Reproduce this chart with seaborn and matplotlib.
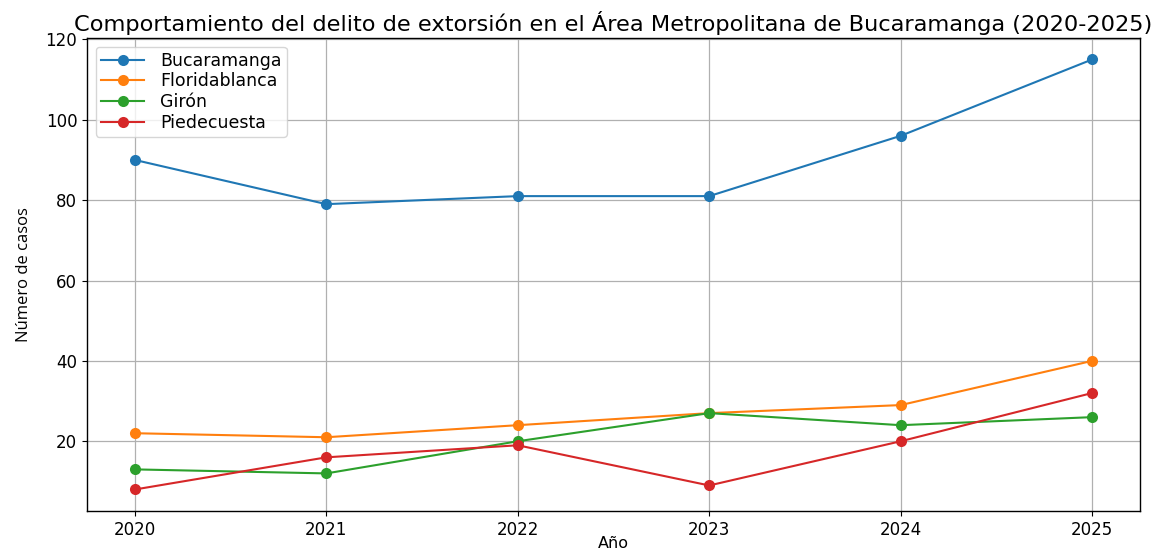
import matplotlib
matplotlib.use("Agg")
import matplotlib.pyplot as plt
import seaborn as sns
import pandas as pd

years = [2020, 2021, 2022, 2023, 2024, 2025]
municipios = ["Bucaramanga", "Floridablanca", "Girón", "Piedecuesta"]
bucaramanga = [90, 79, 81, 81, 96, 115]
floridablanca = [22, 21, 24, 27, 29, 40]
giron = [13, 12, 20, 27, 24, 26]
piedecuesta = [8, 16, 19, 9, 20, 32]

series = [bucaramanga, floridablanca, giron, piedecuesta]
df = pd.DataFrame(
    [(y, m, v) for m, vals in zip(municipios, series) for y, v in zip(years, vals)],
    columns=["Año", "Municipio", "Casos"],
)

fig = plt.figure(figsize=(11.63, 5.52), dpi=100)
ax = fig.add_axes([0.0748, 0.0743, 0.9054, 0.8569])

palette = ["#1f77b4", "#ff7f0e", "#2ca02c", "#d62728"]
sns.lineplot(data=df, x="Año", y="Casos", hue="Municipio", hue_order=municipios,
             palette=palette, marker="o", markersize=8, markeredgewidth=0,
             linewidth=1.5, ax=ax)

ax.set_xticks(years)
ax.set_xticklabels([str(y) for y in years])
ax.tick_params(labelsize=12)
ax.grid(True, color="#b0b0b0", linewidth=0.9)
ax.set_axisbelow(True)
for s in ax.spines.values():
    s.set_linewidth(1.0)
ax.set_title("Comportamiento del delito de extorsión en el Área Metropolitana de Bucaramanga (2020-2025)",
             fontsize=16.2, pad=5)
ax.set_xlabel("Año", fontsize=11.5)
ax.xaxis.set_label_coords(0.5, -0.052)
ax.set_ylabel("Número de casos", fontsize=12, labelpad=10,
              family=["Liberation Sans Narrow", "Open Sans", "DejaVu Sans"])
ax.legend(loc="upper left", fontsize=12.5, frameon=True, labelspacing=0.15,
          borderpad=0.3, handlelength=2.5, handletextpad=0.9, borderaxespad=0.5)

fig.savefig("out.png", dpi=100)
